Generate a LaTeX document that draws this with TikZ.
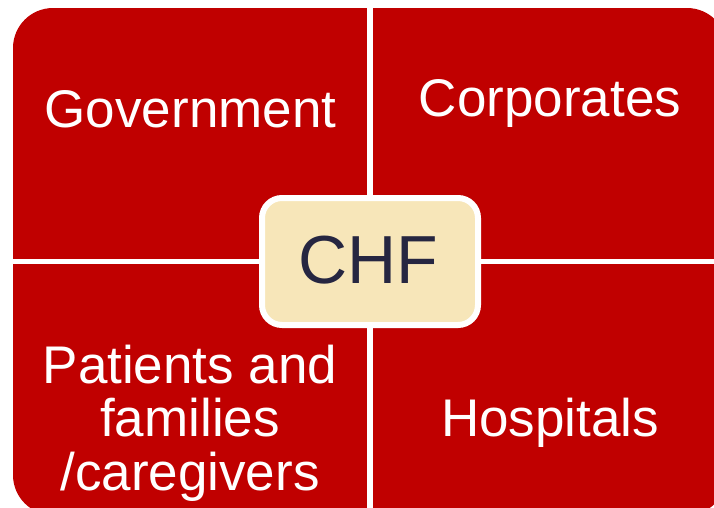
\documentclass[tikz,border=0pt]{standalone}
\usepackage{fontspec}
\setmainfont{Liberation Sans}
\definecolor{quadred}{HTML}{C00000}
\definecolor{cream}{HTML}{F7E6B9}
\definecolor{navytext}{HTML}{262641}
\tikzset{
  quadlabel/.style={text=white, anchor=base, align=center, inner sep=0pt,
    font=\fontsize{53}{53.5}\selectfont},
  centerbox/.style={draw=white, line width=6pt, fill=cream, rounded corners=20pt,
    minimum width=216pt, minimum height=127pt, text=navytext,
    font=\fontsize{68}{70}\selectfont},
  gap/.style={white, line width=5.5pt}
}
\begin{document}
\begin{tikzpicture}[x=1pt,y=-1pt]
\useasboundingbox (0,0) rectangle (714,507);
\clip (0,0) rectangle (714,507);
\fill[white] (0,0) rectangle (714,507);
\fill[quadred, rounded corners=40pt] (13,8) rectangle (727,515);
\coordinate (vtop) at (370,0);
\coordinate (vbot) at (370,520);
\coordinate (hl) at (0,261.5);
\coordinate (hr) at (720,261.5);
\draw[gap] (vtop) -- (vbot);
\draw[gap] (hl) -- (hr);
\node[centerbox] (chf) at (370,261.5) {};
\node[text=navytext, anchor=base, inner sep=0pt, font=\fontsize{68}{70}\selectfont] (chftext) at (368,283) {CHF};
\node[quadlabel] (gov) at (190.5,127.3) {Government};
\node[quadlabel] (corp) at (550,116.7) {Corporates};
\node[quadlabel] (pat) at (190,490) {Patients and\\families\\/caregivers};
\node[quadlabel] (hosp) at (550,436.7) {Hospitals};
\end{tikzpicture}
\end{document}
